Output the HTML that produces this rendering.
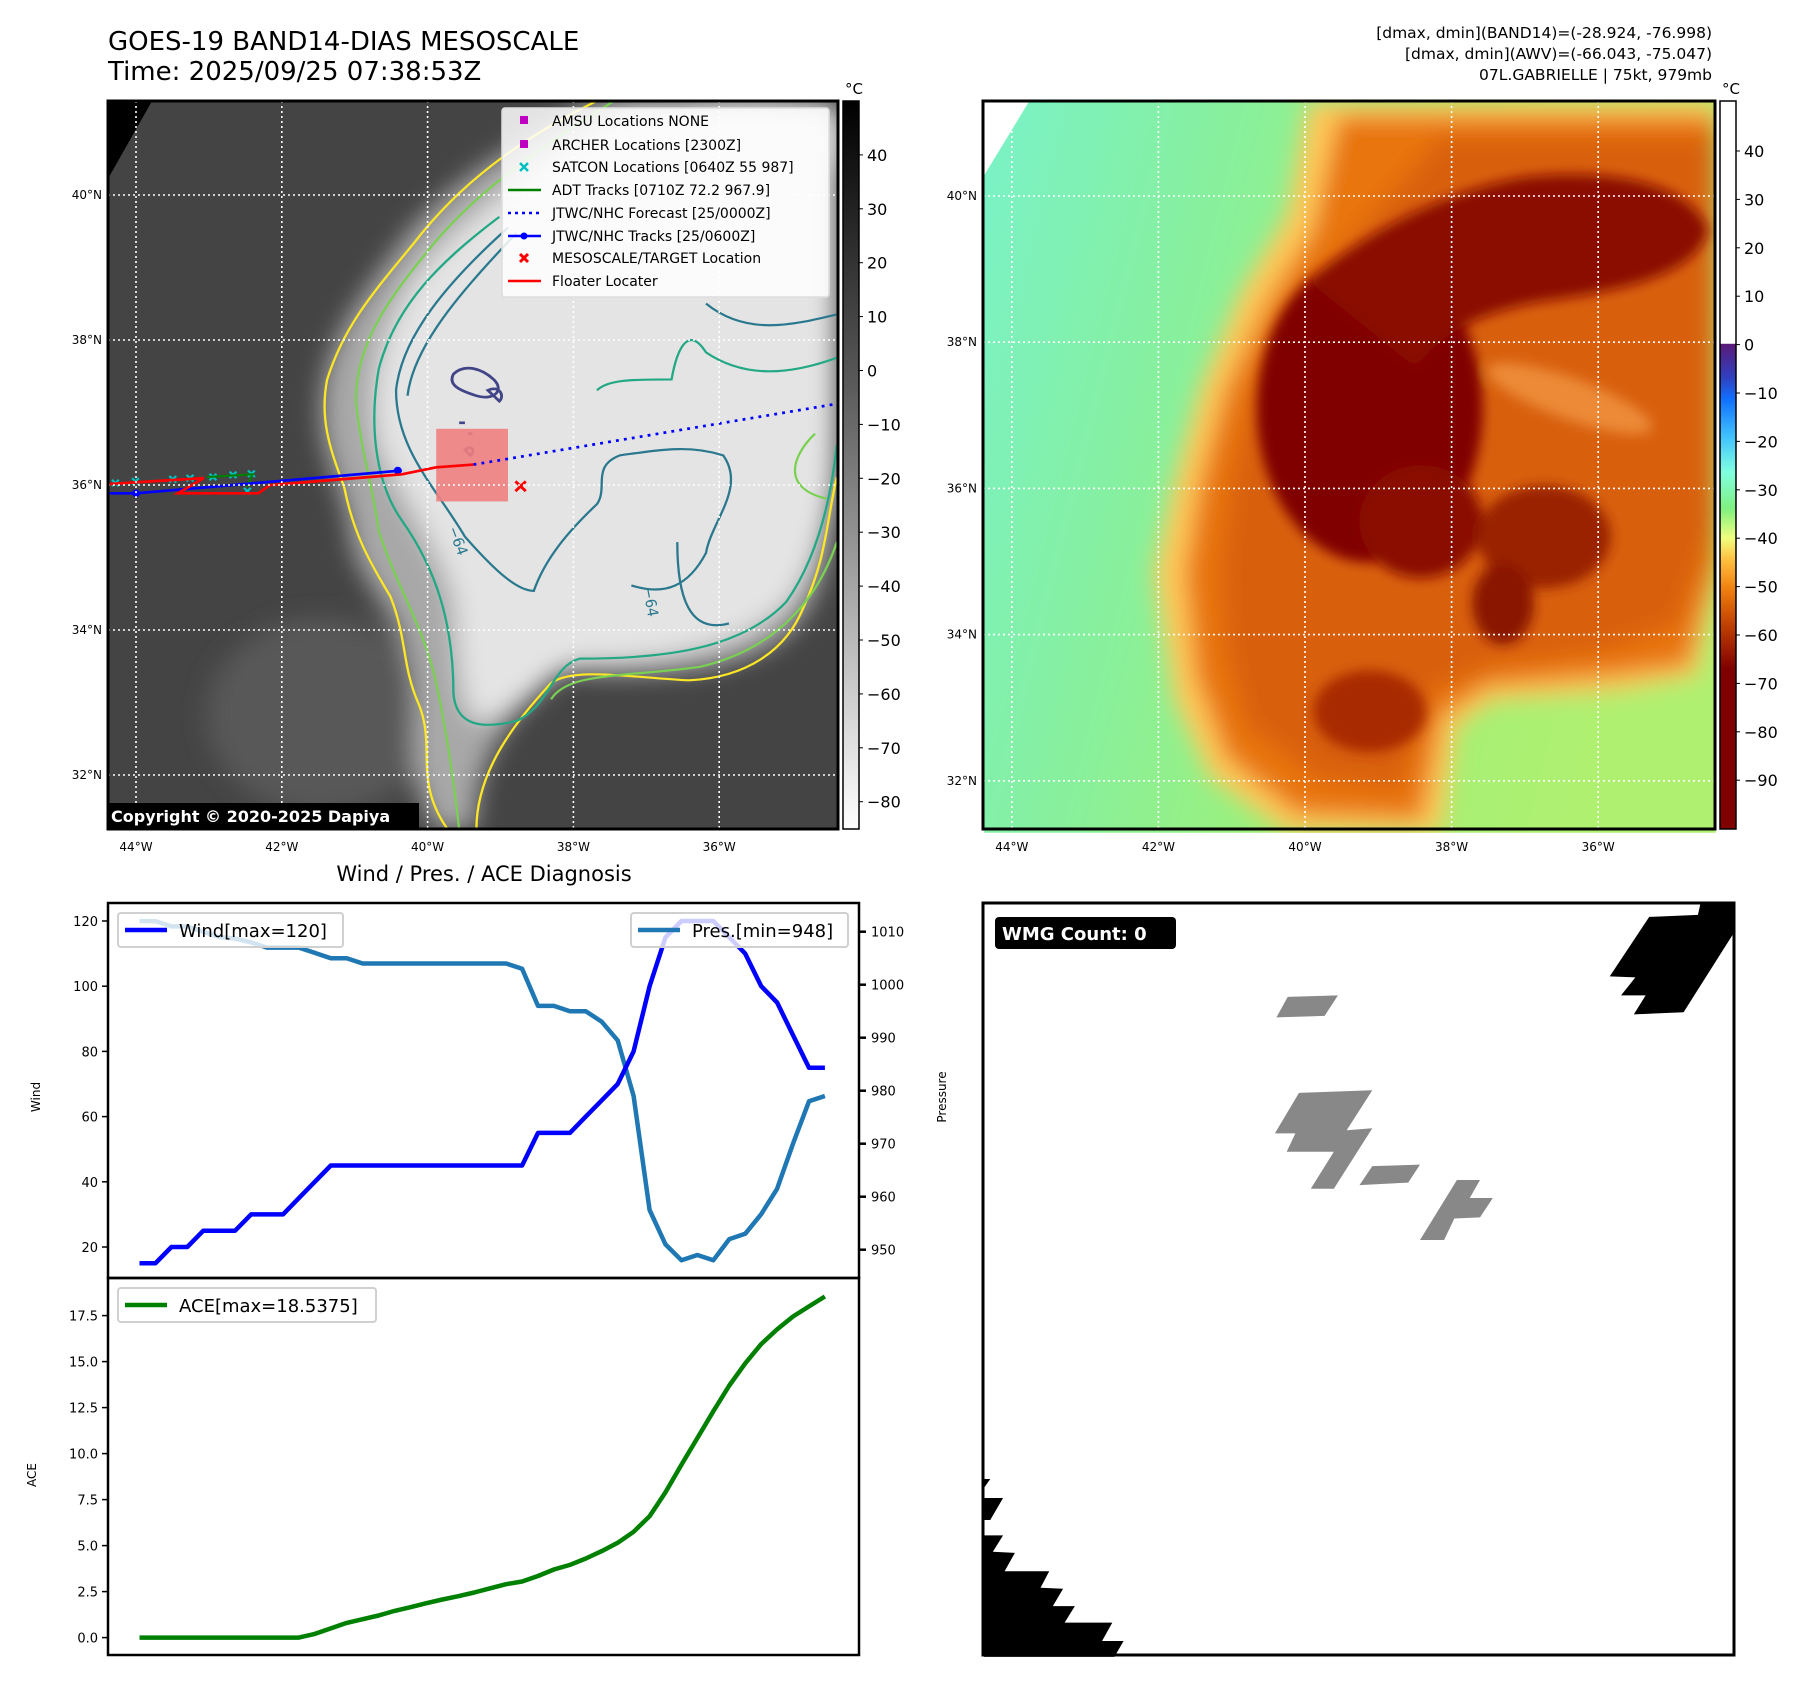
<!DOCTYPE html>
<html><head><meta charset="utf-8">
<style>
html,body{margin:0;padding:0;background:#fff;}
body{width:1801px;height:1690px;overflow:hidden;position:relative;font-family:"DejaVu Sans","Liberation Sans",sans-serif;}
svg text{font-family:"DejaVu Sans","Liberation Sans",sans-serif;}
</style></head>
<body>
<svg id="page" width="1801" height="1690" viewBox="0 0 1801 1690" xmlns="http://www.w3.org/2000/svg">
<defs>
  <filter id="blur20" x="-20%" y="-20%" width="140%" height="140%"><feGaussianBlur stdDeviation="22"/></filter>
  <filter id="blur8" x="-20%" y="-20%" width="140%" height="140%"><feGaussianBlur stdDeviation="12"/></filter>
  <linearGradient id="greyBar" x1="0" y1="0" x2="0" y2="1">
    <stop offset="0" stop-color="#000"/><stop offset="0.37" stop-color="#555"/><stop offset="1" stop-color="#fff"/>
  </linearGradient>
  <linearGradient id="heatBar" x1="0" y1="0" x2="0" y2="1">
    <stop offset="0" stop-color="#fff"/><stop offset="0.333" stop-color="#fff"/>
    <stop offset="0.334" stop-color="#5a1a78"/><stop offset="0.38" stop-color="#3040c0"/>
    <stop offset="0.41" stop-color="#1070ff"/><stop offset="0.46" stop-color="#40c0ff"/>
    <stop offset="0.51" stop-color="#80ffe0"/><stop offset="0.56" stop-color="#80f080"/>
    <stop offset="0.6" stop-color="#f0ff80"/><stop offset="0.63" stop-color="#ffc040"/>
    <stop offset="0.67" stop-color="#f08010"/><stop offset="0.72" stop-color="#c04000"/>
    <stop offset="0.78" stop-color="#800000"/><stop offset="1" stop-color="#800000"/>
  </linearGradient>
  <linearGradient id="heatBg" x1="0" y1="0" x2="1" y2="0.25">
    <stop offset="0" stop-color="#7af2c8"/><stop offset="0.3" stop-color="#86f0a0"/><stop offset="0.6" stop-color="#9cf07a"/><stop offset="1" stop-color="#b0f070"/>
  </linearGradient>
  <clipPath id="clipL"><rect x="188" y="186" width="1270" height="1344"/></clipPath>
  <clipPath id="clipR"><rect x="8" y="82" width="1427" height="1425"/></clipPath>
</defs>

<text x="108" y="50" font-size="26">GOES-19 BAND14-DIAS MESOSCALE</text>
<text x="108" y="80" font-size="26">Time: 2025/09/25 07:38:53Z</text>
<g font-size="15.5" text-anchor="end">
  <text x="1712" y="38">[dmax, dmin](BAND14)=(-28.924, -76.998)</text>
  <text x="1712" y="59">[dmax, dmin](AWV)=(-66.043, -75.047)</text>
  <text x="1712" y="80">07L.GABRIELLE | 75kt, 979mb</text>
</g>

<!-- LEFT MAP -->
<svg x="0" y="0" width="900" height="850" viewBox="0 0 1568 1568" preserveAspectRatio="none">
 <g clip-path="url(#clipL)">
  <rect x="188" y="186" width="1270" height="1344" fill="#444"/>
  <g filter="url(#blur20)">
    <ellipse cx="560" cy="1320" rx="200" ry="180" fill="#585858"/>
    <ellipse cx="1300" cy="260" rx="200" ry="90" fill="#6a6a6a"/>
    <path d="M1040,186 C900,260 760,350 690,460 C620,560 560,640 560,760 C560,850 600,900 610,980 C620,1080 700,1120 720,1250 C730,1350 700,1420 760,1530 L830,1530 C820,1400 900,1300 980,1240 C1100,1250 1300,1250 1380,1160 C1450,1080 1440,980 1458,900 L1458,186 Z" fill="#a8a8a8"/>
    <path d="M1100,200 C950,300 800,400 720,520 C660,620 640,720 660,820 C700,920 760,1000 790,1100 C800,1200 800,1300 830,1330 C900,1320 950,1250 1000,1220 C1150,1220 1300,1200 1380,1100 C1440,1000 1450,900 1458,800 L1458,200 Z" fill="#e4e4e4"/>
  </g>
  <path d="M188,186 L265,186 L188,330 Z" fill="#000"/>
  <g fill="none" stroke-width="4">
    <path stroke="#fde725" d="M1040,186 C900,260 800,340 720,450 C650,540 600,600 570,700 C555,780 580,840 600,900 C615,980 640,1030 680,1100 C710,1180 700,1230 730,1300 C760,1380 720,1440 780,1530 M830,1530 C830,1420 900,1330 960,1260 C1000,1230 1100,1250 1200,1255 C1300,1250 1370,1200 1400,1120 C1440,1030 1440,960 1458,880"/>
    <path stroke="#7ad151" d="M1070,186 C930,280 820,360 740,470 C670,560 620,640 620,740 C630,840 650,900 660,980 C690,1080 740,1160 760,1260 C780,1360 790,1440 800,1530 M1458,1000 C1420,1120 1340,1200 1220,1230 C1080,1250 990,1240 960,1290 M1420,800 C1380,840 1360,900 1440,920"/>
    <path stroke="#22a884" d="M870,400 C770,480 690,560 660,680 C640,800 660,900 700,960 C760,1050 790,1150 790,1280 C795,1340 840,1345 900,1330 C960,1300 960,1230 1010,1215 C1150,1215 1290,1200 1370,1110 C1430,1020 1450,900 1458,820 M1458,660 C1380,690 1300,700 1230,650 C1200,600 1180,640 1170,700 C1100,700 1060,700 1040,720"/>
    <path stroke="#2a788e" d="M885,420 C780,520 700,620 690,720 C690,830 760,900 810,990 C860,1050 900,1090 930,1090 C950,1030 990,980 1040,930 C1060,900 1030,860 1080,840 C1150,830 1200,820 1260,840 C1300,900 1240,960 1230,1020 C1200,1080 1160,1100 1100,1080 M1180,1000 C1180,1100 1200,1170 1270,1150 M1458,580 C1380,600 1300,620 1230,560 M900,430 C800,540 720,640 710,730"/>
    <path stroke="#414487" stroke-width="5" d="M790,690 C810,670 840,680 860,700 C880,720 860,740 830,730 C800,720 780,710 790,690 Z M850,720 C870,710 880,730 870,740 Z M800,780 l10,0 M810,830 c10,-10 20,0 10,10 z M815,800 l8,0"/>
  </g>
  <g font-size="26" fill="#2a788e">
    <text x="780" y="975" transform="rotate(70 780 975)">−64</text>
    <text x="1120" y="1085" transform="rotate(80 1120 1085)">−64</text>
  </g>
  <rect x="760" y="791" width="125" height="134" fill="#f08080" opacity="0.9"/>
  <g stroke="#00c0c0" stroke-width="4">
    <path d="M195,885 l12,12 M207,885 l-12,12 M230,882 l12,12 M242,882 l-12,12 M295,878 l12,12 M307,878 l-12,12 M325,876 l12,12 M337,876 l-12,12 M365,874 l12,12 M377,874 l-12,12 M400,870 l12,12 M412,870 l-12,12 M432,868 l12,12 M444,868 l-12,12 M425,900 l12,12 M437,900 l-12,12"/>
  </g>
  <path d="M360,880 L440,875 L430,898" fill="none" stroke="#008000" stroke-width="4"/>
  <path d="M188,910 L237,910 L700,868" fill="none" stroke="#0000ff" stroke-width="5"/>
  <circle cx="237" cy="910" r="7" fill="#0000ff"/><circle cx="693" cy="868" r="7" fill="#0000ff"/>
  <path d="M188,893 L355,882 L310,910 L450,910 L470,895 L700,875 L760,862 L825,857" fill="none" stroke="#ff0000" stroke-width="5"/>
  <path d="M825,857 L1458,745" fill="none" stroke="#0000ff" stroke-width="5" stroke-dasharray="5,9"/>
  <path d="M898,888 l18,18 M916,888 l-18,18" stroke="#ff0000" stroke-width="5"/>
 </g>
</svg>

<!-- RIGHT MAP -->
<svg x="980" y="60" width="800" height="800" viewBox="0 0 1560 1560" preserveAspectRatio="none">
 <g clip-path="url(#clipR)">
  <rect x="8" y="82" width="1427" height="1425" fill="url(#heatBg)"/>
  <g filter="url(#blur20)">
    <path d="M640,82 L1435,82 L1435,1000 L1400,1200 L1250,1230 L1000,1250 L930,1300 L900,1507 L600,1507 L450,1400 L380,1250 L340,1000 L380,820 L430,640 L510,450 L600,300 Z" fill="#ffc858"/>
    <path d="M700,110 L1435,110 L1435,980 L1380,1180 L1230,1200 L990,1220 L900,1280 L860,1480 L620,1470 L480,1360 L420,1200 L400,1000 L430,820 L480,640 L560,470 L650,330 Z" fill="#e87410"/>
    <path d="M900,150 L1435,150 L1435,900 L1360,1100 L1220,1150 L1000,1180 L880,1230 L820,1420 L660,1400 L520,1300 L480,1150 L470,1000 L490,820 L530,650 L610,500 L700,380 Z" fill="#d8600a"/>
  </g>
  <g filter="url(#blur8)">
    <ellipse cx="760" cy="680" rx="220" ry="300" fill="#800000"/>
    <path d="M640,430 C760,330 900,260 1050,230 C1200,210 1380,230 1420,330 C1400,420 1250,450 1100,470 C980,490 900,530 850,600 Z" fill="#8a1000"/>
    <ellipse cx="860" cy="900" rx="120" ry="110" fill="#8a1000"/>
    <ellipse cx="1100" cy="930" rx="130" ry="100" fill="#9a2000"/>
    <ellipse cx="1020" cy="1060" rx="60" ry="80" fill="#8a1800"/>
    <ellipse cx="760" cy="1270" rx="110" ry="80" fill="#a82a00"/>
    <ellipse cx="1150" cy="660" rx="170" ry="40" fill="#ec8a38" transform="rotate(20 1150 660)"/>
  </g>
  <path d="M8,82 L95,82 L8,225 Z" fill="#fff"/>
 </g>
</svg>

<svg x="980" y="880" width="800" height="800" viewBox="0 0 1560 1560" preserveAspectRatio="none">
  <path d="M1405,45 L1472,45 L1472,100 L1372,258 L1275,262 L1298,225 L1250,225 L1278,190 L1228,188 L1305,72 L1400,68 Z" fill="#000"/>
  <path d="M8,1168 L20,1168 L8,1185 Z M8,1205 L45,1205 L20,1248 L8,1248 Z M8,1278 L45,1278 L25,1310 L68,1312 L48,1348 L135,1348 L118,1380 L162,1382 L142,1416 L185,1416 L165,1448 L258,1448 L238,1484 L280,1484 L262,1515 L8,1515 Z" fill="#000"/>
  <g fill="#888">
    <path d="M600,228 L698,225 L672,265 L578,268 Z"/>
    <path d="M622,415 L765,410 L715,488 L765,484 L690,602 L645,602 L690,530 L598,530 L615,494 L575,494 Z"/>
    <path d="M765,558 L858,555 L835,590 L740,595 Z"/>
    <path d="M930,585 L975,585 L955,620 L1000,620 L975,658 L925,660 L905,702 L858,702 Z"/>
  </g>
</svg>

<g id="frames"></g>

<g>
  <rect x="502" y="108" width="327" height="189" rx="3" fill="#fff" fill-opacity="0.85" stroke="#ddd" stroke-width="1.5"/>
  <g font-size="14">
    <rect x="520" y="116" width="8" height="8" fill="#c000c0"/><text x="552" y="126">AMSU Locations NONE</text>
    <rect x="520" y="140" width="8" height="8" fill="#c000c0"/><text x="552" y="150">ARCHER Locations [2300Z]</text>
    <path d="M520,163 l8,8 M528,163 l-8,8" stroke="#00c0c0" stroke-width="2.5"/><text x="552" y="172">SATCON Locations [0640Z 55 987]</text>
    <line x1="508" y1="190" x2="541" y2="190" stroke="#008000" stroke-width="2.5"/><text x="552" y="195">ADT Tracks [0710Z 72.2 967.9]</text>
    <line x1="508" y1="213" x2="541" y2="213" stroke="#0000ff" stroke-width="2.5" stroke-dasharray="3,4"/><text x="552" y="218">JTWC/NHC Forecast [25/0000Z]</text>
    <line x1="508" y1="236" x2="541" y2="236" stroke="#0000ff" stroke-width="2.5"/><circle cx="524" cy="236" r="3.5" fill="#0000ff"/><text x="552" y="241">JTWC/NHC Tracks [25/0600Z]</text>
    <path d="M520,254 l8,8 M528,254 l-8,8" stroke="#ff0000" stroke-width="3"/><text x="552" y="263">MESOSCALE/TARGET Location</text>
    <line x1="508" y1="281" x2="541" y2="281" stroke="#ff0000" stroke-width="2.5"/><text x="552" y="286">Floater Locater</text>
  </g>
</g>
<rect x="107" y="803" width="312" height="26" fill="#000"/>
<text x="111" y="822" font-size="16" font-weight="bold" fill="#fff">Copyright © 2020-2025 Dapiya</text>

<rect x="995" y="917" width="181" height="32" rx="4" fill="#000"/>
<text x="1002" y="940" font-size="18" font-weight="bold" fill="#fff">WMG Count: 0</text>

<text x="484" y="881" font-size="21" text-anchor="middle">Wind / Pres. / ACE Diagnosis</text>
<g id="chart"></g>
</svg>

<script>
const steps = [0,1,2,3,4,5,6,7,8,9,10,11,12,13,14,15,16,17,18,19,20,21,22,23,24,25,26,27,28,29,30,31,32,33,34,35,36,37,38,39,40,41,42,43];
const windValues = [15,15,20,20,25,25,25,30,30,30,35,40,45,45,45,45,45,45,45,45,45,45,45,45,45,55,55,55,60,65,70,80,100,115,120,120,120,115,110,100,95,85,75,75];
const pressureValues = [1012,1012,1011,1011,1010,1009,1008.7,1008,1007,1007,1007,1006,1005,1005,1004,1004,1004,1004,1004,1004,1004,1004,1004,1004,1003,996,996,995,995,993,989.5,979,957.5,951,948,949,948,952,953,956.7,961.5,970,978,979];
const aceValues = [0,0,0,0,0,0,0,0,0,0,0,0.2,0.5,0.8,1.0,1.2,1.45,1.65,1.87,2.07,2.25,2.45,2.68,2.9,3.05,3.35,3.7,3.95,4.3,4.7,5.15,5.75,6.6,7.9,9.4,10.85,12.3,13.7,14.9,15.95,16.75,17.45,18.0,18.54];
const windTicks = [20,40,60,80,100,120];
const pressureTicks = [950,960,970,980,990,1000,1010];
const aceTicks = [0,2.5,5,7.5,10,12.5,15,17.5];
const latTicks = [40,38,36,34,32];
const lonTicks = [44,42,40,38,36];
const greyBarTicks = [40,30,20,10,0,-10,-20,-30,-40,-50,-60,-70,-80];
const heatBarTicks = [40,30,20,10,0,-10,-20,-30,-40,-50,-60,-70,-80,-90];

const NS = 'http://www.w3.org/2000/svg';
function mk(parent, tag, attrs, text){
  const e = document.createElementNS(NS, tag);
  for (const k in attrs) e.setAttribute(k, attrs[k]);
  if (text !== undefined) e.textContent = text;
  parent.appendChild(e); return e;
}
const xs = i => 139.5 + i * 15.94;
const yWind = v => 921 + (120 - v) * 3.26;
const yPres = p => 931.7 + (1010 - p) * 5.3;
const yAce = a => 1637.6 - a * 18.4;
const lonLx = lon => 136 + (44 - lon) * 72.9;
const latLy = lat => 195 + (40 - lat) * 72.5;
const lonRx = lon => 1011.8 + (44 - lon) * 73.3;
const latRy = lat => 196 + (40 - lat) * 73.1;
const greyY = v => 101 + (50 - v) * 5.39;
const heatY = v => 344.6 - v * 4.84;
const fmt = v => (v < 0 ? '\u2212' + Math.abs(v) : '' + v);

const F = document.getElementById('frames');
function mapGrid(x0,y0,x1,y1,lx,ly,name){
  const g = mk(F,'g',{});
  
  
  lonTicks.forEach(l=>{
    const x = lx(l);
    mk(g,'line',{x1:x,y1:y0,x2:x,y2:y1,stroke:'#fff','stroke-width':1.6,'stroke-dasharray':'2,3'});
    const t = mk(g,'text',{x:x,y:y1+22,'font-size':12,'text-anchor':'middle'}, l+'°W');
    
    
  });
  latTicks.forEach(l=>{
    const y = ly(l);
    mk(g,'line',{x1:x0,y1:y,x2:x1,y2:y,stroke:'#fff','stroke-width':1.6,'stroke-dasharray':'2,3'});
    const t = mk(g,'text',{x:x0-6,y:y+4,'font-size':12,'text-anchor':'end'}, l+'°N');
    
    
  });
  const r = mk(g,'rect',{x:x0,y:y0,width:x1-x0,height:y1-y0,fill:'none',stroke:'#000','stroke-width':3});
  
  
}
mapGrid(108,101,838,829,lonLx,latLy,'ir-map');
mapGrid(983,101,1715,829,lonRx,latRy,'awv-map');

function colorbar(x,fill,ticks,yf,name){
  const g = mk(F,'g',{});
  
  
  mk(g,'rect',{x:x,y:101,width:16,height:728,fill:fill,stroke:'#000','stroke-width':1.5});
  mk(g,'text',{x:x+2,y:94,'font-size':15},'°C');
  ticks.forEach(v=>{
    const y = yf(v);
    mk(g,'line',{x1:x+16,y1:y,x2:x+20,y2:y,stroke:'#000','stroke-width':1});
    mk(g,'text',{x:x+24,y:y+6,'font-size':16}, fmt(v));
  });
}
colorbar(843,'url(#greyBar)',greyBarTicks,greyY,'ir-colorbar');
colorbar(1720,'url(#heatBar)',heatBarTicks,heatY,'awv-colorbar');
const wf = mk(F,'rect',{x:983,y:903,width:751,height:752,fill:'none',stroke:'#000','stroke-width':3});



const C = document.getElementById('chart');
function linePath(vals, yf){ return vals.map((v,i)=>(i?'L':'M')+xs(steps[i]).toFixed(1)+','+yf(v).toFixed(1)).join(' '); }
const pl = mk(C,'path',{d:linePath(pressureValues,yPres),fill:'none',stroke:'#1f77b4','stroke-width':4.5,'stroke-linejoin':'round'});


const wl = mk(C,'path',{d:linePath(windValues,yWind),fill:'none',stroke:'#0000ff','stroke-width':4.5,'stroke-linejoin':'round'});


const al = mk(C,'path',{d:linePath(aceValues,yAce),fill:'none',stroke:'#008000','stroke-width':4.5,'stroke-linejoin':'round'});



windTicks.forEach(v=>{ const y=yWind(v);
  mk(C,'line',{x1:102,y1:y,x2:108,y2:y,stroke:'#000','stroke-width':1.5});
  const t = mk(C,'text',{x:98,y:y+5,'font-size':13,'text-anchor':'end'},v);
  
  
});
pressureTicks.forEach(v=>{ const y=yPres(v);
  mk(C,'line',{x1:859,y1:y,x2:866,y2:y,stroke:'#000','stroke-width':2.5});
  const t = mk(C,'text',{x:871,y:y+5,'font-size':13},v);
  
  
});
aceTicks.forEach(v=>{ const y=yAce(v);
  mk(C,'line',{x1:102,y1:y,x2:108,y2:y,stroke:'#000','stroke-width':1.5});
  const t = mk(C,'text',{x:98,y:y+5,'font-size':13,'text-anchor':'end'},v.toFixed(1));
  
  
});
const yl1 = mk(C,'text',{x:40,y:1097,'font-size':12,'text-anchor':'middle',transform:'rotate(-90 40 1097)'},'Wind');


const yl2 = mk(C,'text',{x:946,y:1097,'font-size':12,'text-anchor':'middle',transform:'rotate(-90 946 1097)'},'Pressure');


const yl3 = mk(C,'text',{x:36,y:1475,'font-size':12,'text-anchor':'middle',transform:'rotate(-90 36 1475)'},'ACE');



const f1 = mk(C,'rect',{x:108,y:903,width:751,height:375,fill:'none',stroke:'#000','stroke-width':2.5});


const f2 = mk(C,'rect',{x:108,y:1278,width:751,height:377,fill:'none',stroke:'#000','stroke-width':2.5});



function legend(x,y,w,color,label,name){
  const g = mk(C,'g',{});
  
  
  mk(g,'rect',{x:x,y:y,width:w,height:34,rx:3,fill:'#fff','fill-opacity':0.8,stroke:'#d0d0d0','stroke-width':2});
  mk(g,'line',{x1:x+7,y1:y+17,x2:x+49,y2:y+17,stroke:color,'stroke-width':4.5});
  mk(g,'text',{x:x+61,y:y+24,'font-size':18},label);
}
legend(118,913,225,'#0000ff','Wind[max=120]','wind-legend');
legend(631,913,217,'#1f77b4','Pres.[min=948]','pressure-legend');
legend(118,1288,258,'#008000','ACE[max=18.5375]','ace-legend');
</script>
</body></html>
